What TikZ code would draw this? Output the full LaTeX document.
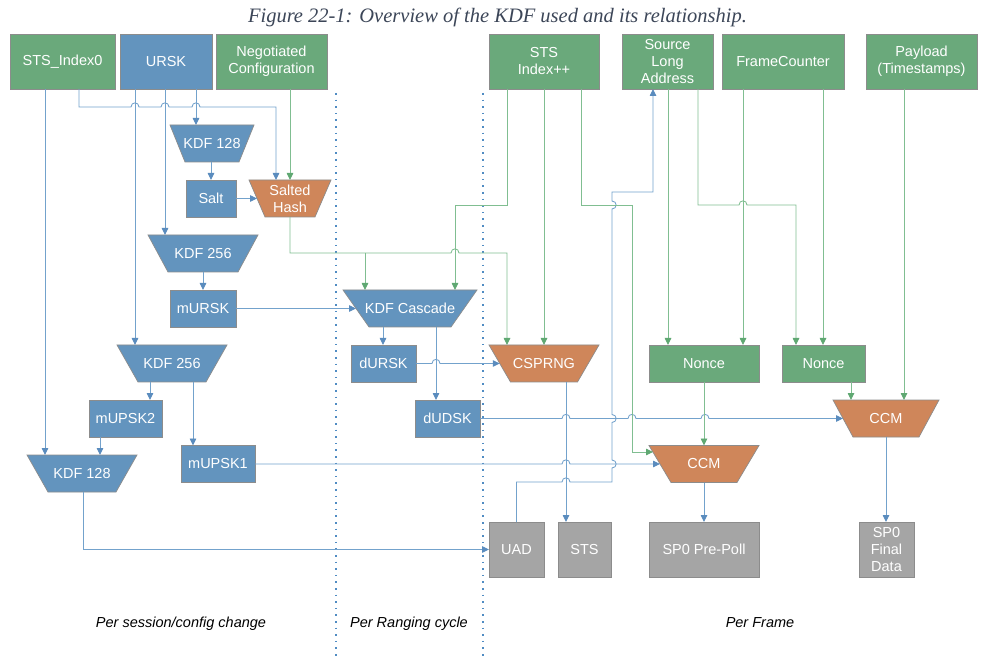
\documentclass[tikz,border=0pt]{standalone}
\usepackage{fontspec}
\setmainfont{Liberation Sans}
\newfontfamily\titlefont{Liberation Serif}
\usetikzlibrary{arrows.meta}
\definecolor{gfill}{RGB}{106,169,123}
\definecolor{bfill}{RGB}{99,148,190}
\definecolor{ofill}{RGB}{207,134,90}
\definecolor{kfill}{RGB}{165,165,165}
\definecolor{edge}{RGB}{140,140,140}
\definecolor{bline}{RGB}{115,162,204}
\definecolor{gline}{RGB}{128,190,145}
\definecolor{barrow}{RGB}{90,140,190}
\definecolor{garrow}{RGB}{95,168,114}
\definecolor{dotc}{RGB}{80,140,195}
\definecolor{titlec}{RGB}{60,70,88}
\tikzset{
  lbl/.style={text=white, font=\fontsize{14.5}{17}\selectfont, align=center, inner sep=0pt, outer sep=0pt},
  boxn/.style={lbl, draw=edge, line width=0.7pt},
  trapedge/.style={draw=edge, line width=0.7pt},
  bl/.style={draw=bline, line width=0.85pt, -{Triangle[length=7pt,width=6.5pt,fill=barrow,color=barrow]}},
  gl/.style={draw=gline, line width=0.85pt, -{Triangle[length=7pt,width=6.5pt,fill=garrow,color=garrow]}},
  dotl/.style={draw=dotc, line width=1.5pt, dash pattern=on 1.6pt off 5pt},
  note/.style={font=\fontsize{14.5}{17}\selectfont\itshape, text=black, anchor=base},
  hh/.style 2 args={insert path={-- ({#1-4},#2) .. controls ({#1-4},{#2-5.5}) and ({#1+4},{#2-5.5}) .. ({#1+4},#2)}},
  vu/.style 2 args={insert path={-- (#1,{#2+4}) .. controls ({#1+5.5},{#2+4}) and ({#1+5.5},{#2-4}) .. (#1,{#2-4})}},
}
% box: name, x1, y1, x2, y2, fill, text
\newcommand{\mybox}[7]{%
  \pgfmathsetmacro\myboxw{#4-#2}\pgfmathsetmacro\myboxh{#5-#3}%
  \node[boxn, fill=#6, minimum width=\myboxw pt, minimum height=\myboxh pt] (#1) at ({(#2+#4)/2},{(#3+#5)/2}) {#7};}
% trapezoid: name, cx, ytop, ybot, top width, bottom width, fill, text
\newcommand{\mytrap}[8]{%
  \filldraw[trapedge, fill=#7] ({#2-#5/2},#3) -- ({#2+#5/2},#3) -- ({#2+#6/2},#4) -- ({#2-#6/2},#4) -- cycle;
  \pgfmathsetmacro\mytrapw{(#5+#6)/2}\pgfmathsetmacro\mytraph{#4-#3}%
  \node[lbl, minimum width=\mytrapw pt, minimum height=\mytraph pt] (#1) at (#2,{(#3+#4)/2}) {#8};}
\begin{document}
\begin{tikzpicture}[x=1pt,y=-1pt]
\useasboundingbox (0,0) rectangle (983,660);
\fill[white] (0,0) rectangle (983,660);

\node[font=\titlefont\itshape\fontsize{20.5}{24}\selectfont, text=titlec, anchor=base] (title) at (497.5,22.5) {Figure 22-1: Overview of the KDF used and its relationship.};

% separators
\draw[dotl] (336,93) -- (336,660);
\draw[dotl] (483,93) -- (483,660);

% top inputs
\mybox{sts0}{10}{34}{115}{89}{gfill}{STS\_Index0}
\mybox{ursk}{120}{34}{212}{89}{bfill}{URSK}
\mybox{negc}{216}{34}{327}{89}{gfill}{Negotiated\\Configuration}
\mybox{stsi}{489}{34}{599}{89}{gfill}{STS\\Index++}
\mybox{sla}{622}{34}{713}{89}{gfill}{Source\\Long\\Address}
\mybox{fc}{722}{34}{844}{89}{gfill}{FrameCounter}
\mybox{pay}{866}{34}{977}{89}{gfill}{Payload\\(Timestamps)}

% session part
\mytrap{kdf128a}{212}{125}{162}{84}{54}{bfill}{KDF 128}
\mybox{salt}{186}{180}{236}{217}{bfill}{Salt}
\mytrap{shash}{290}{180}{217}{82}{50}{ofill}{Salted\\Hash}
\mytrap{kdf256a}{203}{235}{272}{110}{70}{bfill}{KDF 256}
\mybox{mursk}{170}{290}{236}{327}{bfill}{mURSK}
\mytrap{kdf256b}{172}{345}{382}{110}{68}{bfill}{KDF 256}
\mybox{mupsk2}{89}{400}{162}{437}{bfill}{mUPSK2}
\mybox{mupsk1}{181}{445.5}{255}{482.5}{bfill}{mUPSK1}
\mytrap{kdf128b}{82}{455}{492}{110}{68}{bfill}{KDF 128}

% ranging cycle part
\mytrap{kdfc}{410}{290}{327}{134}{82}{bfill}{KDF Cascade}
\mybox{dursk}{351}{345}{416}{382}{bfill}{dURSK}
\mybox{dudsk}{415}{400}{480}{437}{bfill}{dUDSK}

% frame part
\mytrap{csprng}{544}{345}{382}{110}{67}{ofill}{CSPRNG}
\mybox{nonce1}{649}{345}{759}{382}{gfill}{Nonce}
\mybox{nonce2}{782}{345}{865}{382}{gfill}{Nonce}
\mytrap{ccm2}{886}{400}{437}{106}{66}{ofill}{CCM}
\mytrap{ccm1}{704}{445.5}{482.5}{110}{66}{ofill}{CCM}
\mybox{uad}{489}{522}{544}{577}{kfill}{UAD}
\mybox{sts}{558}{522}{611}{577}{kfill}{STS}
\mybox{sp0pp}{649}{522}{759}{577}{kfill}{SP0 Pre-Poll}
\mybox{sp0fd}{859}{522}{914}{577}{kfill}{SP0\\Final\\Data}

\coordinate (j1) at (365,253);
\coordinate (ccm1in) at (653,452);

% blue connectors
\draw[bl] (45,0 |- sts0.south) -- (45,0 |- kdf128b.north);
\draw[bl] (79,0 |- sts0.south) -- (79,107) [hh={135}{107}] [hh={165}{107}] [hh={196}{107}] -- (276,107) -- (276,0 |- shash.north);
\draw[bl] (135,0 |- ursk.south) -- (135,0 |- kdf256b.north);
\draw[bl] (165,0 |- ursk.south) -- (165,0 |- kdf256a.north);
\draw[bl] (196,0 |- ursk.south) -- (196,0 |- kdf128a.north);
\draw[bl] (211,0 |- kdf128a.south) -- (211,0 |- salt.north);
\draw[bl] (salt.east) -- (shash.west);
\draw[bl] (kdf256a.south) -- (mursk.north);
\draw[bl] (mursk.east) -- (kdfc.west);
\draw[bl] (150,0 |- kdf256b.south) -- (150,0 |- mupsk2.north);
\draw[bl] (193,0 |- kdf256b.south) -- (193,0 |- mupsk1.north);
\draw[bl] (100,0 |- mupsk2.south) -- (100,0 |- kdf128b.north);
\draw[bl] (83,0 |- kdf128b.south) -- (83,549.5) -- (uad.west);
\draw[bl] (383,0 |- kdfc.south) -- (383,0 |- dursk.north);
\draw[bl] (436,0 |- kdfc.south) -- (436,0 |- dudsk.north);
\draw[bl] (dursk.east) [hh={436}{363.5}] -- (csprng.west);
\draw[bl] (dudsk.east) [hh={566}{418.5}] [hh={632}{418.5}] [hh={705}{418.5}] -- (ccm2.west);
\draw[bl] (mupsk1.east) [hh={566}{464}] -- (ccm1.west);
\draw[bl] (566,0 |- csprng.south) -- (566,0 |- sts.north);
\draw[bl] (uad.north) -- (516.5,482) [hh={566}{482}] -- (612,482) [vu={612}{464}] [vu={612}{418.5}] [vu={612}{205}] -- (612,192) -- (653,192) -- (653,0 |- sla.south);
\draw[bl] (ccm1.south) -- (sp0pp.north);
\draw[bl] (ccm2.south) -- (ccm2.south |- sp0fd.north);

% green connectors
\draw[gl] (290,0 |- negc.south) -- (290,0 |- shash.north);
\draw[gl] (shash.south) -- (290,253) [hh={455}{253}] -- (507,253) -- (507,0 |- csprng.north);
\draw[gl] (j1) -- (365,0 |- kdfc.north);
\draw[gl] (507,0 |- stsi.south) -- (507,205) -- (455,205) -- (455,0 |- kdfc.north);
\draw[gl] (stsi.south) -- (csprng.north);
\draw[gl] (581,0 |- stsi.south) -- (581,205) -- (632,205) -- (632,452) -- (ccm1in);
\draw[gl] (668,0 |- sla.south) -- (668,0 |- nonce1.north);
\draw[gl] (698,0 |- sla.south) -- (698,205) [hh={743}{205}] -- (796,205) -- (796,0 |- nonce2.north);
\draw[gl] (743,0 |- fc.south) -- (743,0 |- nonce1.north);
\draw[gl] (823,0 |- fc.south) -- (823,0 |- nonce2.north);
\draw[gl] (904,0 |- pay.south) -- (904,0 |- ccm2.north);
\draw[gl] (nonce1.south) -- (ccm1.north);
\draw[gl] (851,0 |- nonce2.south) -- (851,0 |- ccm2.north);

% phase labels
\node[note] (n1) at (181,627) {Per session/config change};
\node[note] (n2) at (409,627) {Per Ranging cycle};
\node[note] (n3) at (760,627) {Per Frame};
\end{tikzpicture}
\end{document}
